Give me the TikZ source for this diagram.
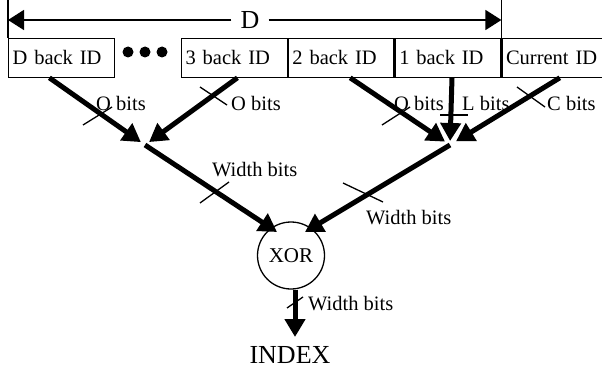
\documentclass[tikz,border=0pt]{standalone}
\usepackage{fontspec}
\setmainfont{Liberation Serif}
\usetikzlibrary{arrows.meta,calc}
\begin{document}
\begin{tikzpicture}[x=1pt,y=-1pt,
  idbox/.style={draw,line width=1.3pt,text width=97.5pt,align=left,inner xsep=4pt,minimum height=38.5pt,anchor=west,font=\fontsize{20.5}{24}\selectfont},
  bus/.style={line width=5pt,-{Triangle[length=18pt,width=20pt]}},
  lbl/.style={anchor=west,inner sep=0pt,font=\fontsize{20.5}{24}\selectfont},
  tickmark/.style={line width=1.3pt},
  dimline/.style={line width=1.5pt},
  dot/.style={circle,fill=black,inner sep=0pt,minimum size=11pt}]
\useasboundingbox (0,0) rectangle (602,369);
% boxes
\node[idbox] (b1) at (8,57.9) {D back ID};
\node[idbox] (b3) at (181,57.9) {3 back ID};
\node[idbox] (b2) at (b3.east) {2 back ID};
\node[idbox] (b0) at (b2.east) {1 back ID};
\node[idbox] (bc) at (b0.east) {Current ID};
% dots
\node[dot] (d1) at (128,52) {};
\node[dot] (d2) at (145,52) {};
\node[dot] (d3) at (162,52) {};
% dimension
\coordinate (tl) at (b1.north west |- 0,0);
\coordinate (tr) at (b0.north east |- 0,0);
\draw[dimline] (tl) -- (b1.north west);
\draw[dimline] (tr) -- (b0.north east);
\coordinate (al) at (b1.north west |- 0,20);
\coordinate (ar) at (b0.north east |- 0,20);
\node[inner xsep=9pt,inner ysep=0pt,font=\fontsize{26}{28}\selectfont] (D) at (250,20) {D};
\draw[dimline,-{Triangle[length=16pt,width=20pt]}] (D) -- (al);
\draw[dimline,-{Triangle[length=16pt,width=20pt]}] (D) -- (ar);
% merge points and XOR
\coordinate (m1) at (145,145);
\coordinate (m2) at (450,145);
\node[draw,circle,line width=1.3pt,minimum size=67pt,inner sep=0pt,font=\fontsize{21}{24}\selectfont] (xor) at (291,255.5) {XOR};
\coordinate (xl) at ($(xor.center)+(-14,-23.5)$);
\coordinate (xr) at ($(xor.center)+(14,-23.5)$);
\node[inner sep=0pt,font=\fontsize{26}{28}\selectfont] (idx) at (290,355) {INDEX};
\coordinate (xo) at (295,337);
% buses
\draw[bus,shorten >=5pt] ($(b1.south)+(-12,0)$) -- (m1);
\draw[bus,shorten >=5pt] ($(b3.south)+(3,0)$) -- (m1);
\draw[bus] (m1) -- (xl);
\draw[bus,shorten >=6pt] ($(b2.south)+(9,0)$) -- (m2);
\draw[bus,shorten >=4pt] ($(b0.south)+(4,0)$) -- (m2);
\draw[bus,shorten >=7pt] ($(bc.south)+(5,0)$) -- (m2);
\draw[bus] (m2) -- (xr);
\draw[bus] (xor.south -| xo) -- (xo);
% tick marks
\draw[tickmark] (83,125) -- (112,107);
\draw[tickmark] (200,87) -- (227,105);
\draw[tickmark] (200,203) -- (229,182);
\draw[tickmark] (382,125) -- (410,107);
\draw[tickmark] (440,115) -- (468,115);
\draw[tickmark] (517,87) -- (545,107);
\draw[tickmark] (343,183) -- (383,202);
\draw[tickmark] (287,308) -- (303,297);
% labels
\node[lbl] (l1) at (96,103) {O bits};
\node[lbl] (l2) at (231,103) {O bits};
\node[lbl] (l3) at (212,170) {Width bits};
\node[lbl] (l4) at (394,103) {O bits};
\node[lbl] (l5) at (462,103) {L bits};
\node[lbl] (l6) at (547,103) {C bits};
\node[lbl] (l7) at (366,218) {Width bits};
\node[lbl] (l8) at (308,304) {Width bits};
\end{tikzpicture}
\end{document}
